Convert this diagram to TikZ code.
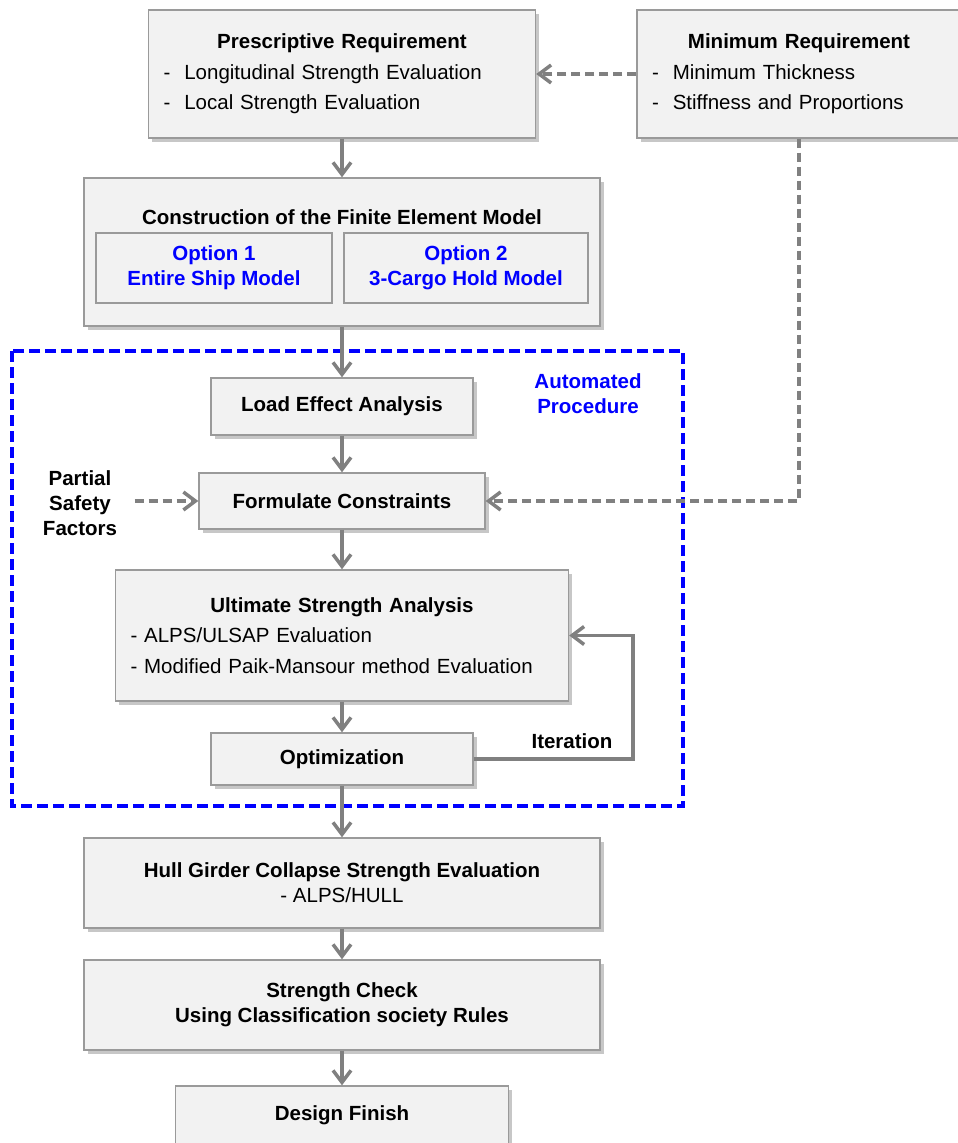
\documentclass[tikz,border=0pt]{standalone}
\usepackage{fontspec}
\setmainfont{Liberation Sans}
\usepackage{tikz}
\usepackage{xcolor}
\usetikzlibrary{arrows.meta,shadows}

\definecolor{boxfill}{HTML}{F2F2F2}
\definecolor{boxline}{HTML}{9A9A9A}
\definecolor{linegray}{HTML}{808080}
\definecolor{autoblue}{HTML}{0000FF}

\begin{document}
\begin{tikzpicture}[
    x=1pt, y=-1pt,
    box/.style={draw=boxline, fill=boxfill, rectangle, line width=1.4pt, align=center, font=\fontsize{20.5}{25}\selectfont\bfseries, drop shadow={shadow xshift=3.5pt, shadow yshift=-4pt, fill=black, opacity=0.22}},
    listbox/.style={box, align=left, inner xsep=15pt, font=\fontsize{20.5}{30.5}\selectfont},
    optbox/.style={draw=boxline, fill=boxfill, rectangle, line width=1.4pt, text=autoblue, align=center, font=\fontsize{20.5}{25}\selectfont\bfseries},
    txt/.style={align=center, font=\fontsize{20.5}{25}\selectfont\bfseries},
    arrow/.style={-{Straight Barb[length=12pt, width=18pt]}, line width=3.5pt, draw=linegray},
    dasharrow/.style={arrow, dash pattern=on 9pt off 5pt},
    autoframe/.style={draw=autoblue, line width=3.5pt, dash pattern=on 11pt off 5pt}
]
\useasboundingbox (0,0) rectangle (958,1143);
\clip (0,0) rectangle (958,1143);

% Automated procedure region
\draw[autoframe] (12,351) rectangle (683,806);
\node[txt, text=autoblue] (autolabel) at (588,393.5) {Automated\\Procedure};

% Requirements
\node[listbox, text width=357pt, minimum width=387pt, minimum height=128pt] (pres) at (342,74) {\makebox[\hsize]{\textbf{Prescriptive Requirement}}\\ -\hspace{14pt}Longitudinal Strength Evaluation\\ -\hspace{14pt}Local Strength Evaluation};
\node[listbox, text width=294pt, minimum width=324pt, minimum height=128pt] (minreq) at (799,74) {\makebox[\hsize]{\textbf{Minimum Requirement}}\\ -\hspace{14pt}Minimum Thickness\\ -\hspace{14pt}Stiffness and Proportions};

% Finite element model
\node[box, minimum width=516pt, minimum height=148pt] (fem) at (342,252) {};
\node[txt] (femtitle) at (342,217) {Construction of the Finite Element Model};
\node[optbox, minimum width=236pt, minimum height=70pt] (opt1) at (214,268) {Option 1\\Entire Ship Model};
\node[optbox, minimum width=244pt, minimum height=70pt] (opt2) at (466,268) {Option 2\\3-Cargo Hold Model};

% Automated steps
\node[box, minimum width=262pt, minimum height=57pt] (load) at (342,406.5) {Load Effect Analysis};
\node[box, minimum width=286pt, minimum height=56pt] (cons) at (342,501) {Formulate Constraints};
\node[txt] (psf) at (80,503) {Partial\\Safety\\Factors};
\node[listbox, text width=423pt, minimum width=453pt, minimum height=131pt] (ult) at (342,635.5) {\makebox[\hsize]{\textbf{Ultimate Strength Analysis}}\\ - ALPS/ULSAP Evaluation\\ - Modified Paik-Mansour method Evaluation};
\node[box, minimum width=262pt, minimum height=52pt] (opt) at (342,759) {Optimization};
\coordinate (iter) at (633,759);
\node[txt] (iterlabel) at (572,741) {Iteration};

% Final checks
\node[box, minimum width=516pt, minimum height=90pt] (hull) at (342,883) {Hull Girder Collapse Strength Evaluation\\\mdseries - ALPS/HULL};
\node[box, minimum width=516pt, minimum height=90pt] (check) at (342,1005) {Strength Check\\Using Classification society Rules};
\node[box, minimum width=333pt, minimum height=58pt] (finish) at (342,1115) {Design Finish};

% Connectors
\draw[dasharrow] (minreq.west) -- (pres.east);
\draw[arrow] (pres) -- (fem);
\draw[arrow] (fem) -- (load);
\draw[arrow] (load) -- (cons);
\draw[dasharrow] (minreq.south) |- (cons.east);
\draw[dasharrow, shorten <=14pt] (psf.east |- cons.west) -- (cons.west);
\draw[arrow] (cons) -- (ult);
\draw[arrow] (ult) -- (opt);
\draw[arrow] (opt.east) -- (iter) |- (ult.east);
\draw[arrow] (opt) -- (hull);
\draw[arrow] (hull) -- (check);
\draw[arrow] (check) -- (finish);

\end{tikzpicture}
\end{document}
